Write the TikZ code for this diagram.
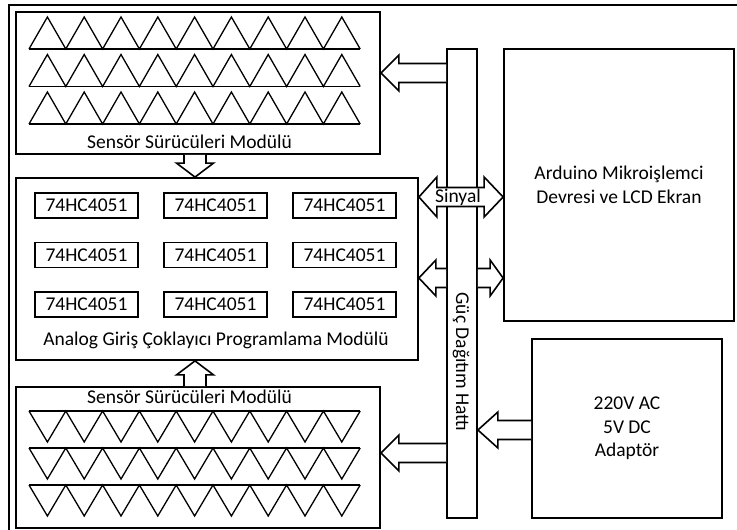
\documentclass[tikz,border=0pt]{standalone}
\usepackage{fontspec}
\setmainfont{Carlito}
\usetikzlibrary{positioning,calc}
\newcommand{\fatH}[3]{% tail, tip, signed head length
  \draw[fat] ($(#1)+(0,-9.5)$) -- ($(#2)+(#3,-9.5)$) -- ($(#2)+(#3,-18)$) -- (#2)
    -- ($(#2)+(#3,18)$) -- ($(#2)+(#3,9.5)$) -- ($(#1)+(0,9.5)$);}
\newcommand{\fatV}[3]{% tail, tip, signed head length
  \draw[fat] ($(#1)+(-11,0)$) -- ($(#2)+(-11,#3)$) -- ($(#2)+(-18.5,#3)$) -- (#2)
    -- ($(#2)+(18.5,#3)$) -- ($(#2)+(11,#3)$) -- ($(#1)+(11,0)$);}
\begin{document}
\begin{tikzpicture}[x=1pt, y=-1pt,
  font=\fontsize{19.5}{23.5}\selectfont,
  box/.style={draw, line width=1.8pt, inner sep=0pt, align=center},
  chip/.style={draw, line width=1.6pt, inner sep=0pt, minimum width=103pt, minimum height=25pt},
  lbl/.style={inner sep=0pt},
  tri/.style={line width=1.3pt, line join=miter},
  fat/.style={line width=1.6pt, line join=miter, fill=white},
  frame/.style={line width=2.2pt}]
\useasboundingbox (0,0) rectangle (737,530);
\draw[frame] (737,5) -- (9,5) -- (9,530);
\node[box, minimum width=364pt, minimum height=142pt] (topS) at (198,83) {};
\node[box, minimum width=402pt, minimum height=182pt] (mux) at (217,269) {};
\node[box, minimum width=364pt, minimum height=141pt] (botS) at (198,457.5) {};
\node[box, minimum width=30pt, minimum height=469pt] (bus) at (462,283.5) {};
\node[box, minimum width=230pt, minimum height=272pt] (ard) at (619,185) {Arduino Mikroişlemci\\Devresi ve LCD Ekran};
\node[box, minimum width=190pt, minimum height=179pt] (adp) at (627,428.5) {220V AC\\5V DC\\Adaptör};
\node[lbl] (topL) at (189.5,142) {Sensör Sürücüleri Modülü};
\node[lbl] (botL) at (189.5,397) {Sensör Sürücüleri Modülü};
\node[lbl] (muxL) at (216,340) {Analog Giriş Çoklayıcı Programlama Modülü};
\node[lbl, rotate=-90] (busL) at (461,362) {Güç Dağıtım Hattı};
\foreach \c/\x in {1/86.5,2/215.5,3/344.5}
  \foreach \r/\y in {1/205.5,2/255,3/304.5}
    \node[chip] (c\r\c) at (\x,\y) {74HC4051};
\foreach \b in {49,86.5,124} {
  \draw[tri] (29,\b) -- (360,\b);
  \draw[tri] (29,\b) \foreach \i in {0,...,8} { -- ++(18.4,-32) -- ++(18.4,32)};
}
\foreach \t in {411,448,485} {
  \draw[tri] (29,\t) -- (360,\t);
  \draw[tri] (29,\t) \foreach \i in {0,...,8} { -- ++(18.4,31) -- ++(18.4,-31)};
}
\coordinate (a1t) at (bus.west |- 0,73);
\coordinate (a1h) at (topS.east |- 0,73);
\coordinate (a2t) at (bus.west |- 0,278);
\coordinate (a2h) at (mux.east |- 0,278);
\coordinate (a3t) at (bus.east |- 0,278);
\coordinate (a3h) at (ard.west |- 0,278);
\coordinate (a4t) at (adp.west |- 0,430);
\coordinate (a4h) at (bus.east |- 0,430);
\coordinate (a5t) at (bus.west |- 0,453);
\coordinate (a5h) at (botS.east |- 0,453);
\coordinate (vdt) at (topS.south -| 195,0);
\coordinate (vdh) at (mux.north -| 195,0);
\coordinate (vut) at (botS.north -| 195,0);
\coordinate (vuh) at (mux.south -| 195,0);
\coordinate (sL) at (mux.east |- 0,197);
\coordinate (sR) at (ard.west |- 0,197);
\fatH{a1t}{a1h}{18}
\fatH{a2t}{a2h}{17}
\fatH{a3t}{a3h}{-13}
\fatH{a4t}{a4h}{20}
\fatH{a5t}{a5h}{18}
\fatV{vdt}{vdh}{-14}
\fatV{vut}{vuh}{14}
\draw[fat] (sL) -- ($(sL)+(18,-20)$) -- ($(sL)+(18,-9.5)$) -- ($(sR)+(-19,-9.5)$)
  -- ($(sR)+(-19,-20)$) -- (sR) -- ($(sR)+(-19,20)$) -- ($(sR)+(-19,9.5)$)
  -- ($(sL)+(18,9.5)$) -- ($(sL)+(18,20)$) -- cycle;
\node[lbl] (sig) at (458,197) {Sinyal};
\end{tikzpicture}
\end{document}
